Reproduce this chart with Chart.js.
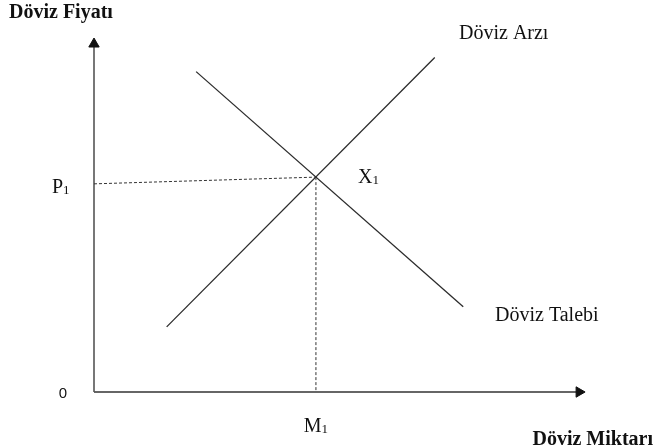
<!DOCTYPE html>
<html>
<head>
<meta charset="utf-8">
<script src="https://cdn.jsdelivr.net/npm/chart.js@4"></script>
<style>
  html, body { margin: 0; padding: 0; background: #fff; }
  #wrap { width: 655px; height: 446px; position: relative; }
</style>
</head>
<body>
<div id="wrap"><canvas id="grafico"></canvas></div>
<script>
// veriler (eksen birimi 0-10)
const arzX = [1.48, 6.94];
const arzY = [1.84, 9.45];
const talepX = [2.08, 7.52];
const talepY = [9.05, 2.41];
const dengeX = 4.52;
const dengeY = 6.07;
const fiyatKesikY = [5.88, 6.07];
const eksenX = [0, 9.88];
const eksenY = [0, 9.83];

function noktalar(xs, ys) {
    return xs.map((x, i) => ({ x: x, y: ys[i] }));
}

const serif = '"Liberation Serif", "Times New Roman", serif';

// yazilar
const etiketler = {
    id: 'etiketler',
    afterDraw(chart) {
        const ctx = chart.ctx;
        const xs = chart.scales.x;
        const ys = chart.scales.y;
        const area = chart.chartArea;
        ctx.save();
        ctx.fillStyle = '#111';
        ctx.textBaseline = 'alphabetic';

        ctx.font = 'bold 20px ' + serif;
        ctx.textAlign = 'left';
        ctx.fillText('Döviz Fiyatı', 9, 18);
        ctx.textAlign = 'right';
        ctx.fillText('Döviz Miktarı', 653, 445);

        ctx.font = '20px ' + serif;
        ctx.textAlign = 'left';
        ctx.fillText('Döviz Arzı', 459, 39);
        ctx.fillText('Döviz Talebi', 495, 321);

        // alt indisli etiketler
        function altIndis(harf, x, y, hizala) {
            ctx.font = '20px ' + serif;
            const w1 = ctx.measureText(harf).width;
            ctx.font = '13px ' + serif;
            const w2 = ctx.measureText('1').width;
            let sol = x;
            if (hizala === 'center') sol = x - (w1 + w2) / 2;
            ctx.textAlign = 'left';
            ctx.font = '20px ' + serif;
            ctx.fillText(harf, sol, y);
            ctx.font = '13px ' + serif;
            ctx.fillText('1', sol + w1, y + 1);
        }
        altIndis('P', 52, ys.getPixelForValue(fiyatKesikY[0]) + 9, 'left');
        altIndis('X', xs.getPixelForValue(dengeX) + 42, ys.getPixelForValue(dengeY) + 6, 'left');
        altIndis('M', xs.getPixelForValue(dengeX), area.bottom + 40, 'center');

        ctx.font = '15px "Liberation Sans", Arial, sans-serif';
        ctx.textAlign = 'center';
        ctx.fillText('0', 63, area.bottom + 6);
        ctx.restore();
    }
};

const config = {
    type: 'scatter',
    data: {
        datasets: [
            {
                label: 'Döviz Arzı',
                data: noktalar(arzX, arzY),
                showLine: true,
                borderColor: '#2b2b2b',
                borderWidth: 1.3,
                pointRadius: 0,
                clip: false
            },
            {
                label: 'Döviz Talebi',
                data: noktalar(talepX, talepY),
                showLine: true,
                borderColor: '#2b2b2b',
                borderWidth: 1.3,
                pointRadius: 0,
                clip: false
            },
            {
                label: 'P1',
                data: noktalar([0, dengeX], fiyatKesikY),
                showLine: true,
                borderColor: '#333',
                borderWidth: 1,
                borderDash: [3, 2],
                pointRadius: 0,
                clip: false
            },
            {
                label: 'M1',
                data: noktalar([dengeX, dengeX], [dengeY, 0]),
                showLine: true,
                borderColor: '#333',
                borderWidth: 1,
                borderDash: [3, 2],
                pointRadius: 0,
                clip: false
            },
            {
                label: 'y ekseni',
                data: noktalar([0, 0], eksenY),
                showLine: true,
                borderColor: '#555',
                borderWidth: 1.6,
                pointStyle: 'triangle',
                pointRadius: [0, 6],
                pointRotation: 0,
                pointBackgroundColor: '#111',
                pointBorderColor: '#111',
                pointBorderWidth: 1,
                clip: false
            },
            {
                label: 'x ekseni',
                data: noktalar(eksenX, [0, 0]),
                showLine: true,
                borderColor: '#333',
                borderWidth: 1.6,
                pointStyle: 'triangle',
                pointRadius: [0, 6],
                pointRotation: 90,
                pointBackgroundColor: '#111',
                pointBorderColor: '#111',
                pointBorderWidth: 1,
                clip: false
            }
        ]
    },
    options: {
        responsive: true,
        maintainAspectRatio: false,
        animation: false,
        layout: {
            padding: { left: 94, right: 70, top: 38, bottom: 54 }
        },
        scales: {
            x: { type: 'linear', min: 0, max: 10, display: false },
            y: { type: 'linear', min: 0, max: 10, display: false }
        },
        plugins: {
            legend: { display: false },
            tooltip: { enabled: false }
        }
    },
    plugins: [etiketler]
};

var grafik = new Chart(document.getElementById('grafico'), config);
</script>
</body>
</html>
